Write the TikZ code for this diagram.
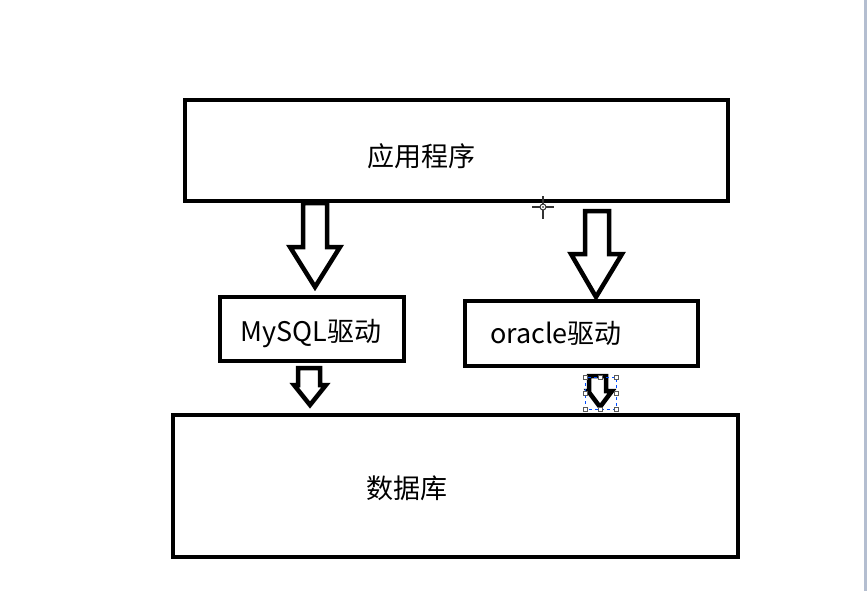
\documentclass[tikz,border=0pt]{standalone}
\usepackage{fontspec}
\setmainfont{Noto Sans CJK SC}
\definecolor{edgegray}{HTML}{B4BED0}
\begin{document}
\begin{tikzpicture}[x=1pt,y=-1pt,
  boxline/.style={draw=black,line width=4pt,fill=white},
  label/.style={font=\fontsize{27}{30}\selectfont,inner sep=0pt,anchor=center},
  blockarrow/.style={draw=black,line width=4.5pt,fill=white,line join=miter},
  handle/.style={draw=gray!70!black,fill=white,line width=0.6pt,minimum size=4pt,inner sep=0pt}]
\useasboundingbox (0,0) rectangle (867,591);
\fill[white] (0,0) rectangle (867,591);
\fill[edgegray] (864,0) rectangle (867,591);
% boxes
\draw[boxline] (185,100) rectangle (728,201);
\draw[boxline] (220,297) rectangle (404,361);
\draw[boxline] (465,301) rectangle (698,366);
\draw[boxline] (173,415) rectangle (738,557);
\node[label] (app) at (421,156) {应用程序};
\node[label] (mysql) at (311,334) {MySQL驱动};
\node[label] (oracle) at (556,333) {oracle驱动};
\node[label] (db) at (407,488) {数据库};
% block arrows
\draw[blockarrow] (303,203) -- (327,203) -- (327,247) -- (340,247) -- (315,287) -- (290,247) -- (303,247) -- cycle;
\draw[blockarrow] (585,211) -- (609,211) -- (609,254) -- (622,254) -- (596,297) -- (571,254) -- (585,254) -- cycle;
\draw[blockarrow] (298,368) -- (320,368) -- (320,385) -- (326,385) -- (310,405) -- (294,385) -- (298,385) -- cycle;
\draw[blockarrow] (589,376) -- (606,376) -- (606,391) -- (612,391) -- (600,407) -- (588,391) -- (589,391) -- cycle;
% selection frame
\draw[blue!70!cyan,dashed,line width=0.8pt] (585,377) rectangle (616,409);
\foreach \p in {(585,377),(600.5,377),(616,377),(585,393),(616,393),(585,409),(600.5,409),(616,409)}
  \node[handle] at \p {};
% cursor
\draw[black!80,line width=1.5pt] (543,196) -- (543,219) (532,207) -- (554,207);
\draw[black!80,fill=white,line width=1pt] (543,207) circle (3pt);
\fill[black] (543,207) circle (0.8pt);
\end{tikzpicture}
\end{document}
